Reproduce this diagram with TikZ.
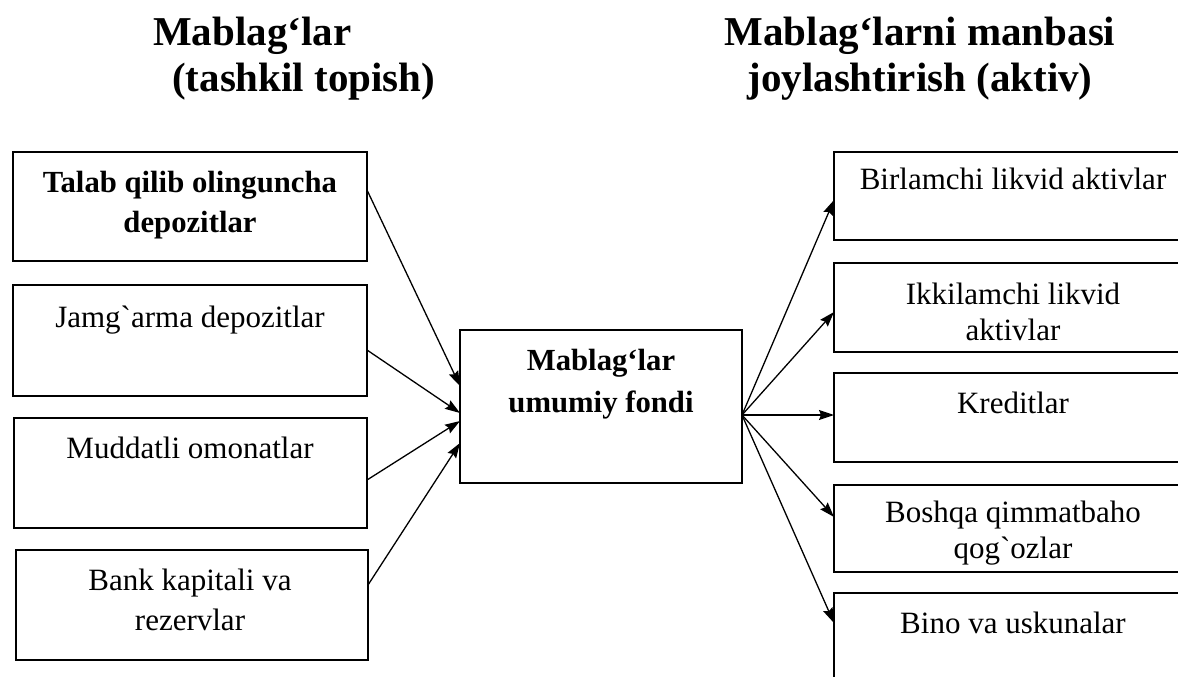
\documentclass[tikz,border=0pt]{standalone}
\usepackage{fontspec}
\setmainfont{Liberation Serif}[Ligatures=TeXOff]
\usetikzlibrary{arrows.meta}
\begin{document}
\begin{tikzpicture}[x=1pt,y=-1pt,
  box/.style={draw,line width=1.9pt,inner sep=0pt,outer sep=0pt,anchor=north west},
  ltxt/.style={font=\fontsize{31}{40}\selectfont,align=center,inner sep=0pt,anchor=north},
  rtxt/.style={font=\fontsize{31}{36}\selectfont,align=center,inner sep=0pt,anchor=north},
  btxt/.style={font=\fontsize{30.7}{40}\selectfont\bfseries,align=center,inner sep=0pt,anchor=north},
  mtxt/.style={font=\fontsize{30.7}{42}\selectfont\bfseries,align=center,inner sep=0pt,anchor=north},
  ttl/.style={font=\fontsize{41}{46}\selectfont\bfseries,inner sep=0pt},
  arr/.style={line width=1.3pt,-{Stealth[length=15pt,width=10pt,inset=2pt]}}]
\clip (0,0) rectangle (1178,677);
\fill[white] (0,0) rectangle (1178,677);
% titles
\node[ttl,align=left,anchor=north west] (tl) at (153,13.3) {\strut Mablag‘lar\\\hspace*{19pt}(tashkil topish)};
\node[ttl,align=center,anchor=north] (tr) at (920,13.3) {\strut Mablag‘larni manbasi\\joylashtirish (aktiv)};
% left boxes
\node[box,minimum width=354pt,minimum height=109pt] (l1) at (13,152) {};
\node[box,minimum width=354pt,minimum height=111pt] (l2) at (13,285) {};
\node[box,minimum width=353pt,minimum height=110pt] (l3) at (14,418) {};
\node[box,minimum width=352pt,minimum height=110pt] (l4) at (16,550) {};
% middle box
\node[box,minimum width=282pt,minimum height=153pt] (m) at (460,330) {};
% right boxes
\node[box,minimum width=366pt,minimum height=88pt] (r1) at (834,152) {};
\node[box,minimum width=366pt,minimum height=89pt] (r2) at (834,263) {};
\node[box,minimum width=366pt,minimum height=89pt] (r3) at (834,373) {};
\node[box,minimum width=366pt,minimum height=87pt] (r4) at (834,485) {};
\node[box,minimum width=366pt,minimum height=107pt] (r5) at (834,593) {};
% texts
\node[btxt] (t1) at (190,164) {\strut Talab qilib olinguncha\\depozitlar};
\node[ltxt] (t2) at (190,299) {\strut Jamg`arma depozitlar};
\node[ltxt] (t3) at (190,430) {\strut Muddatli omonatlar};
\node[ltxt] (t4) at (190,562) {\strut Bank kapitali va\\rezervlar};
\node[mtxt] (tm) at (601,340.6) {\strut Mablag‘lar\\umumiy fondi};
\node[rtxt] (s1) at (1013,163.8) {\strut Birlamchi likvid aktivlar};
\node[rtxt] (s2) at (1013,278.8) {\strut Ikkilamchi likvid\\aktivlar};
\node[rtxt] (s3) at (1013,387.8) {\strut Kreditlar};
\node[rtxt] (s4) at (1013,496.8) {\strut Boshqa qimmatbaho\\qog`ozlar};
\node[rtxt] (s5) at (1013,607.8) {\strut Bino va uskunalar};
% arrows in
\draw[arr] ([yshift=16.5pt]l1.east) -- ([yshift=20.5pt]m.west);
\draw[arr] ([yshift=-9.5pt]l2.east) -- ([yshift=-6.5pt]m.west);
\draw[arr] ([yshift=-7pt]l3.east) -- ([yshift=-14.5pt]m.west);
\draw[arr] ([yshift=20pt]l4.east) -- ([yshift=-36.5pt]m.west);
% arrows out
\draw[arr] ([yshift=-8.5pt]m.east) -- ([yshift=-4pt]r1.west);
\draw[arr] ([yshift=-8.5pt]m.east) -- ([yshift=-4.5pt]r2.west);
\draw[arr] ([yshift=-8.5pt]m.east) -- ([yshift=2.5pt]r3.west);
\draw[arr] ([yshift=-8.5pt]m.east) -- ([yshift=11.5pt]r4.west);
\draw[arr] ([yshift=-8.5pt]m.east) -- ([yshift=23.5pt]r5.west);
\end{tikzpicture}
\end{document}
